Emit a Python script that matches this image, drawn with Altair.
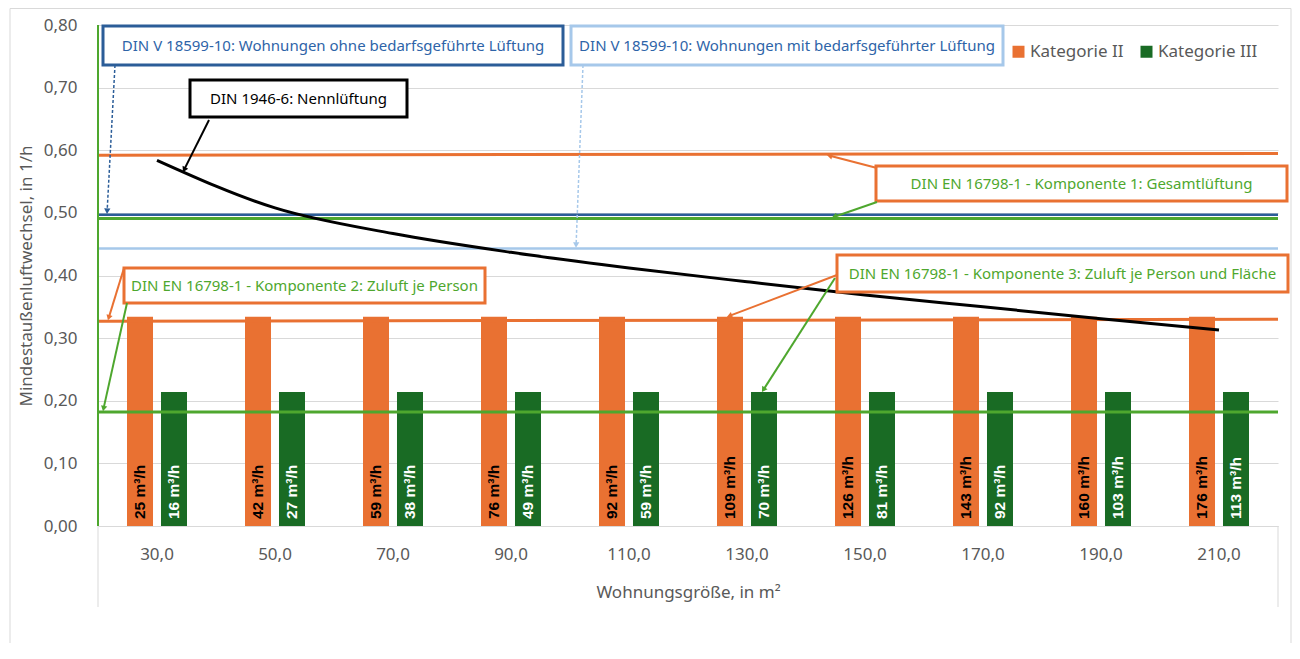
import math
import altair as alt
import pandas as pd

# ---------------- data ----------------
sizes = [30, 50, 70, 90, 110, 130, 150, 170, 190, 210]
categories = ["Kategorie II", "Kategorie III"]
kat2_rate = [0.334, 0.334, 0.334, 0.334, 0.334, 0.334, 0.334, 0.334, 0.334, 0.334]
kat3_rate = [0.214, 0.214, 0.214, 0.214, 0.214, 0.214, 0.214, 0.214, 0.214, 0.214]
kat2_flow = [25, 42, 59, 76, 92, 109, 126, 143, 160, 176]
kat3_flow = [16, 27, 38, 49, 59, 70, 81, 92, 103, 113]
nennlueftung = [0.584, 0.508, 0.467, 0.437, 0.412, 0.390, 0.369, 0.350, 0.331, 0.313]

# reference lines: (start value, end value)
komp1_kat2 = [0.592, 0.595]
din18599_ohne = [0.497, 0.497]
komp1_kat3 = [0.491, 0.491]
din18599_mit = [0.443, 0.443]
komp2_kat2 = [0.327, 0.330]
komp2_kat3 = [0.182, 0.182]

y_ticks = [0.0, 0.1, 0.2, 0.3, 0.4, 0.5, 0.6, 0.7, 0.8]

# ---------------- style ----------------
W, H = 1180, 501
YMAX = 0.8
ORANGE = "#E97132"
DKGREEN = "#196B24"
LTGREEN = "#4EA72E"
DKBLUE = "#2B5D98"
LTBLUE = "#A6C8EA"
TXTBLUE = "#2E64A8"
GREY = "#595959"
GRID = "#D9D9D9"
FONT = "Noto Sans"


def py(v):
    return H * (1 - v / YMAX)


one = pd.DataFrame({"a": [0]})

bars_df = pd.DataFrame({
    "size": sizes * 2,
    "kat": [categories[0]] * len(sizes) + [categories[1]] * len(sizes),
    "rate": kat2_rate + kat3_rate,
    "flow": kat2_flow + kat3_flow,
})
bars_df["label"] = bars_df["flow"].astype(str) + " m³/h"

curve_df = pd.DataFrame({"size": sizes, "rate": nennlueftung})

x_enc = alt.X(
    "size:O",
    scale=alt.Scale(paddingInner=0, paddingOuter=0),
    title="Wohnungsgröße, in m²",
    axis=alt.Axis(
        labelExpr="datum.value + ',0'",
        labelAngle=0,
        ticks=False,
        domainColor=GRID,
        domainWidth=1,
        labelPadding=20,
        labelFontSize=17,
        labelColor=GREY,
        labelFont=FONT,
        titleFont=FONT,
        titleFontSize=17,
        titleColor=GREY,
        titleFontWeight="normal",
        titlePadding=22,
    ),
)
y_scale = alt.Scale(domain=[0, YMAX], nice=False, zero=True)
y_enc = alt.Y(
    "rate:Q",
    scale=y_scale,
    title="Mindestaußenluftwechsel, in 1/h",
    axis=alt.Axis(
        values=y_ticks,
        labelExpr="replace(format(datum.value, '.2f'), '.', ',')",
        grid=True,
        gridColor=GRID,
        gridWidth=1,
        domain=False,
        ticks=False,
        labelPadding=21,
        labelFontSize=17,
        labelColor=GREY,
        labelFont=FONT,
        titleFont=FONT,
        titleFontSize=17,
        titleColor=GREY,
        titleFontWeight="normal",
        titlePadding=8,
    ),
)
xoff = alt.XOffset("kat:N", scale=alt.Scale(domain=categories, range=[29, 89], paddingInner=0.235, paddingOuter=0))

layers = []

# chart frame
layers.append(
    alt.Chart(one).mark_rect(fill=None, stroke=GRID, strokeWidth=1).encode(
        x=alt.value(-88), x2=alt.value(1193), y=alt.value(-16.5), y2=alt.value(660)
    )
)

bars = alt.Chart(bars_df).mark_bar().encode(
    x=x_enc,
    xOffset=xoff,
    y=y_enc,
    color=alt.Color(
        "kat:N",
        scale=alt.Scale(domain=categories, range=[ORANGE, DKGREEN]),
        legend=alt.Legend(
            title=None,
            orient="none",
            legendX=912,
            legendY=18,
            direction="horizontal",
            symbolType="square",
            symbolSize=144,
            symbolStrokeWidth=0,
            labelFontSize=17,
            labelFont=FONT,
            labelColor=GREY,
            labelOffset=3,
            columnPadding=14,
        ),
    ),
)
layers.append(bars)

for kat, col in [(categories[0], "black"), (categories[1], "white")]:
    layers.append(
        alt.Chart(bars_df).transform_filter(alt.datum.kat == kat).mark_text(
            angle=270, align="left", baseline="middle", dx=7,
            font="Liberation Sans", fontWeight="bold", fontSize=15.5, color=col,
        ).encode(x="size:O", xOffset=xoff, y=alt.datum(0), text="label:N")
    )

# horizontal reference lines
for vals, col, w in [
    (komp1_kat2, ORANGE, 3),
    (din18599_ohne, DKBLUE, 2.5),
    (komp1_kat3, LTGREEN, 3),
    (din18599_mit, LTBLUE, 2.5),
    (komp2_kat2, ORANGE, 3),
    (komp2_kat3, LTGREEN, 3),
]:
    layers.append(
        alt.Chart(one).mark_rule(color=col, strokeWidth=w).encode(
            x=alt.value(0), x2=alt.value(W), y=alt.datum(vals[0]), y2=alt.datum(vals[1])
        )
    )

# DIN 1946-6 curve
layers.append(
    alt.Chart(curve_df).mark_line(color="black", strokeWidth=3, interpolate="monotone").encode(
        x="size:O", y="rate:Q")
)

# left green vertical line and grey lines below axis
layers.append(alt.Chart(one).mark_rule(color=LTGREEN, strokeWidth=2).encode(
    x=alt.value(0), y=alt.value(0), y2=alt.value(H)))
for xv in [0, W]:
    layers.append(alt.Chart(one).mark_rule(color=GRID, strokeWidth=1).encode(
        x=alt.value(xv), y=alt.value(H), y2=alt.value(H + 81)))

# annotation boxes: (x1, x2, y1, y2, border, text colour, text)
boxes = [
    (5, 465, 1, 40, DKBLUE, TXTBLUE, "DIN V 18599-10: Wohnungen ohne bedarfsgeführte Lüftung"),
    (473, 905, 1, 40, LTBLUE, TXTBLUE, "DIN V 18599-10: Wohnungen mit bedarfsgeführter Lüftung"),
    (92, 309, 55, 92, "black", "black", "DIN 1946-6: Nennlüftung"),
    (778, 1189, 141, 176, ORANGE, LTGREEN, "DIN EN 16798-1 - Komponente 1: Gesamtlüftung"),
    (26, 387, 243, 278, ORANGE, LTGREEN, "DIN EN 16798-1 - Komponente 2: Zuluft je Person"),
    (739, 1190, 230, 267, ORANGE, LTGREEN, "DIN EN 16798-1 - Komponente 3: Zuluft je Person und Fläche"),
]

# arrows: (x_from, y_from, x_tip, y_tip, colour, dashed)
arrows = [
    (17, 40, 9, py(din18599_ohne[0]) - 1, DKBLUE, True),
    (485, 40, 478, py(din18599_mit[0]) - 1, LTBLUE, True),
    (111, 95, 85, 147, "black", False),
    (779, 143, 729, 130, ORANGE, False),
    (779, 177, 734, py(komp1_kat3[0]) - 1, LTGREEN, False),
    (26, 243, 10, py(komp2_kat2[0]) - 1, ORANGE, False),
    (29, 278, 5, py(komp2_kat3[0]) - 1, LTGREEN, False),
    (739, 250, 629, py(kat2_rate[5]), ORANGE, False),
    (737, 253, 664, py(kat3_rate[5]), LTGREEN, False),
]

for (x1, x2, y1, y2, bc, tc, txt) in boxes:
    layers.append(alt.Chart(one).mark_rect(fill="white", stroke=bc, strokeWidth=3).encode(
        x=alt.value(x1), x2=alt.value(x2), y=alt.value(y1), y2=alt.value(y2)))

for (xf, yf, xt, yt, col, dashed) in arrows:
    dx, dy = xt - xf, yt - yf
    L = math.hypot(dx, dy)
    ux, uy = dx / L, dy / L
    ang = math.degrees(math.atan2(dx, -dy)) % 360
    rule_kw = dict(color=col, strokeWidth=1.5 if dashed else 2)
    if dashed:
        rule_kw["strokeDash"] = [3, 2]
    layers.append(alt.Chart(one).mark_rule(**rule_kw).encode(
        x=alt.value(xf), y=alt.value(yf), x2=alt.value(xt - ux * 4), y2=alt.value(yt - uy * 4)))
    layers.append(alt.Chart(one).mark_point(shape="triangle", filled=True, size=40, color=col,
                                            opacity=1, angle=ang).encode(
        x=alt.value(xt - ux * 3.5), y=alt.value(yt - uy * 3.5)))

for (x1, x2, y1, y2, bc, tc, txt) in boxes:
    layers.append(alt.Chart(one).mark_text(text=txt, font=FONT, fontSize=15, color=tc,
                                           align="center", baseline="middle").encode(
        x=alt.value((x1 + x2) / 2), y=alt.value((y1 + y2) / 2)))

chart = alt.layer(*layers).properties(
    width=W,
    height=H,
    autosize=alt.AutoSizeParams(type="none"),
    padding={"left": 90, "top": 17, "right": 14, "bottom": 117},
).configure_view(stroke=None)

chart.save("out.html", embed_options={"renderer": "svg", "actions": False})
